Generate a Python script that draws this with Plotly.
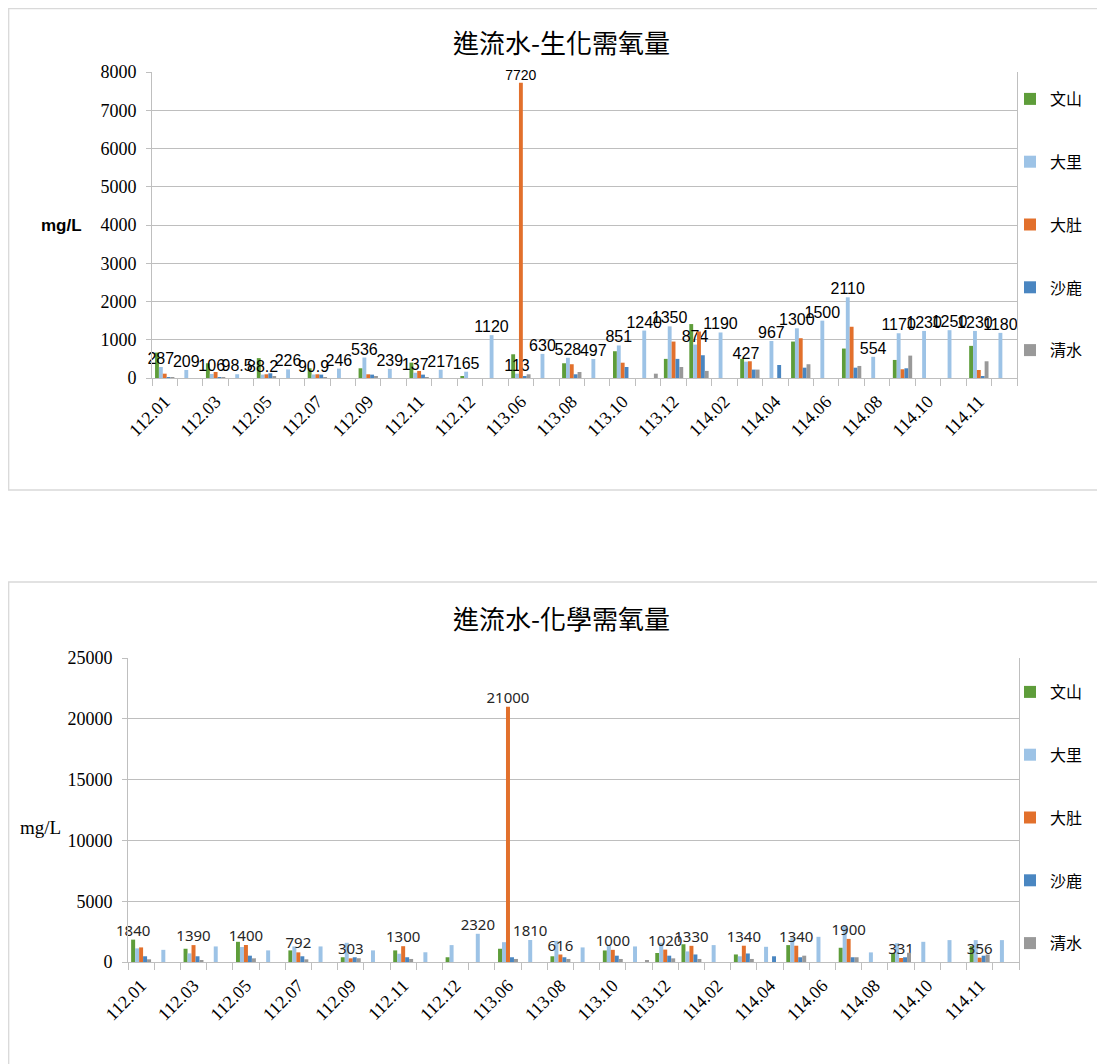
import plotly.graph_objects as go

W, H = 1105, 1064
OFF = 8  # page body margin in the browser

categories = ["112.01", "112.02", "112.03", "112.04", "112.05", "112.06", "112.07", "112.08",
              "112.09", "112.10", "112.11", "112.11-2", "112.12", "113.05", "113.06", "113.07",
              "113.08", "113.09", "113.10", "113.11", "113.12", "114.01", "114.02", "114.03",
              "114.04", "114.05", "114.06", "114.07", "114.08", "114.09", "114.10", "114.10-2",
              "114.11", "114.12"]
shown_tick_every = 2

series_names = ["文山", "大里", "大肚", "沙鹿", "清水"]
series_colors = ["#5E9D3A", "#9DC3E6", "#E2702C", "#4A86C1", "#999999"]

# 生化需氧量 (BOD) mg/L
bod_wenshan = [664, None, 385, None, 520, None, 254, None, 254, None, 402, None, 52, None, 620, None, 385,
               None, 700, None, 500, 1410, None, 500, None, 953, None, 770, None, 472, None, None, 840, None]
bod_dali = [287, 209, 106, 98.5, 88.2, 226, 90.9, 246, 536, 239, 137, 217, 165, 1120, 113, 630, 528,
            497, 851, 1240, 1350, 874, 1190, 427, 967, 1300, 1500, 2110, 554, 1170, 1230, 1250, 1230, 1180]
bod_dadu = [113, None, 157, None, 97, None, 97, None, 97, None, 184, None, None, None, 7720, None, 360,
            None, 400, None, 953, 1215, None, 437, None, 1040, None, 1340, None, 228, None, None, 210, None]
bod_shalu = [26, None, 26, None, 123, None, 88, None, 88, None, 88, None, None, None, 50, None, 97,
             None, 288, None, 500, 595, None, 220, 340, 270, None, 270, None, 254, None, None, 52, None]
bod_qingshui = [15, None, 26, None, 45, None, 26, None, 35, None, 26, None, None, None, 97, None, 157,
                None, None, 113, 288, 185, None, 220, None, 360, None, 315, None, 585, None, None, 437, None]

# 化學需氧量 (COD) mg/L
cod_wenshan = [1840, None, 1090, None, 1660, None, 955, None, 390, None, 955, None, 390, None, 1090, None, 470,
               None, 950, None, 740, 1460, None, 620, None, 1390, None, 1170, None, 760, None, None, 1300, None]
cod_dali = [1120, 1000, 710, 1280, 1230, 955, 1280, 1280, 1580, 955, 680, 800, 1390, 2320, 1630, 1810, 1740,
            1200, 1390, 1280, 1580, 870, 1390, 470, 1250, 1960, 2070, 2970, 790, 1550, 1660, 1800, 1800, 1800]
cod_dadu = [1200, None, 1390, None, 1400, None, 792, None, 303, None, 1300, None, None, None, 21000, None, 616,
            None, 1000, None, 1020, 1330, None, 1340, None, 1340, None, 1900, None, 331, None, None, 356, None]
cod_shalu = [470, None, 470, None, 520, None, 470, None, 390, None, 390, None, None, None, 390, None, 390,
             None, 520, None, 520, 620, None, 700, 470, 390, None, 390, None, 390, None, None, 520, None]
cod_qingshui = [220, None, 140, None, 300, None, 220, None, 310, None, 250, None, None, None, 250, None, 250,
                None, 250, 150, 300, 250, None, 250, None, 520, None, 390, None, 760, None, None, 620, None]

# which points carry a data label
bod_label_idx = {"大里": list(range(len(categories))), "大肚": [14]}
cod_label_idx = {"文山": [0], "大里": [13, 15],
                 "大肚": [2, 4, 6, 8, 10, 14, 16, 18, 20, 21, 23, 25, 27, 29, 32]}

bod_title = "進流水-生化需氧量"
cod_title = "進流水-化學需氧量"
y_unit = "mg/L"
bod_range, bod_dtick = [0, 8000], 1000
cod_range, cod_dtick = [0, 25000], 5000

bod_series = [bod_wenshan, bod_dali, bod_dadu, bod_shalu, bod_qingshui]
cod_series = [cod_wenshan, cod_dali, cod_dadu, cod_shalu, cod_qingshui]

ticktext = [c if i % shown_tick_every == 0 else "" for i, c in enumerate(categories)]


def px(x):
    return (x - OFF) / W


def py(y):
    return 1 - (y - OFF) / H


def fmt(v):
    return f"{v:g}"


def texts(name, vals, idx_map):
    idx = set(idx_map.get(name, []))
    return [fmt(v) if (i in idx and v is not None) else "" for i, v in enumerate(vals)]


fig = go.Figure()
for name, color, vals in zip(series_names, series_colors, bod_series):
    fig.add_trace(go.Bar(
        x=categories, y=vals, name=name, marker=dict(color=color, line=dict(width=0)),
        text=texts(name, vals, bod_label_idx), textposition="outside", constraintext="none",
        cliponaxis=False, textangle=0,
        textfont=dict(family="Liberation Sans", size=16 if name == "大里" else 14, color="#000000"),
        xaxis="x", yaxis="y", legend="legend", legendgroup="b" + name, hoverinfo="x+y+name"))
for name, color, vals in zip(series_names, series_colors, cod_series):
    fig.add_trace(go.Bar(
        x=categories, y=vals, name=name, marker=dict(color=color, line=dict(width=0)),
        text=texts(name, vals, cod_label_idx), textposition="outside", constraintext="none",
        cliponaxis=False, textangle=0,
        textfont=dict(family="Noto Sans", size=15, color="#262626"),
        xaxis="x2", yaxis="y2", legend="legend2", legendgroup="c" + name, hoverinfo="x+y+name"))

axis_line = "#BFBFBF"
grid = "#BEBEBE"


def xaxis_cfg(domain, anchor):
    return dict(domain=domain, anchor=anchor, type="category", categoryorder="array",
                categoryarray=categories, tickmode="array", tickvals=categories, ticktext=ticktext,
                tickson="boundaries", ticks="outside", ticklen=7, tickcolor=axis_line,
                showline=True, linecolor=axis_line, linewidth=1, tickangle=-45, showgrid=False,
                automargin=False, ticklabelstandoff=5,
                tickfont=dict(family="Liberation Serif", size=18, color="#000000"),
                range=[-0.5, len(categories) - 0.5])


def yaxis_cfg(domain, anchor, rng, dt):
    return dict(domain=domain, anchor=anchor, range=rng, dtick=dt, tick0=0, tickformat="d",
                showgrid=True, gridcolor=grid, gridwidth=1, zeroline=False,
                showline=True, mirror=True, linecolor=axis_line, linewidth=1, automargin=False,
                ticks="outside", ticklen=5, tickcolor=axis_line, ticklabelstandoff=6,
                tickfont=dict(family="Liberation Serif", size=18, color="#000000"))


legend_font = dict(family="Noto Sans CJK TC", size=16, color="#000000")
box_line = dict(color="#D9D9D9", width=1.3)

fig.update_layout(
    width=W, height=H, margin=dict(l=0, r=0, t=0, b=0, pad=0, autoexpand=False),
    paper_bgcolor="white", plot_bgcolor="white",
    barmode="group", bargap=0.24, bargroupgap=0,
    xaxis=xaxis_cfg([px(152), px(1017)], "y"),
    yaxis=yaxis_cfg([py(378), py(72)], "x", bod_range, bod_dtick),
    xaxis2=xaxis_cfg([px(128), px(1019)], "y2"),
    yaxis2=yaxis_cfg([py(962), py(658)], "x2", cod_range, cod_dtick),
    legend=dict(x=px(1010), y=py(82), xanchor="left", yanchor="top", font=legend_font,
                tracegroupgap=39, itemwidth=30, bgcolor="rgba(0,0,0,0)"),
    legend2=dict(x=px(1010), y=py(675), xanchor="left", yanchor="top", font=legend_font,
                 tracegroupgap=39, itemwidth=30, bgcolor="rgba(0,0,0,0)"),
    shapes=[
        dict(type="rect", xref="paper", yref="paper", x0=px(8.7), x1=1.02, y0=py(490), y1=py(8.7),
             line=box_line),
        dict(type="rect", xref="paper", yref="paper", x0=px(8.7), x1=1.02, y0=-0.05, y1=py(582),
             line=box_line),
    ],
    annotations=[
        dict(text=bod_title, x=px(561), y=py(42), xref="paper", yref="paper", showarrow=False,
             xanchor="center", yanchor="middle",
             font=dict(family="Noto Sans CJK TC", size=26, color="#000000")),
        dict(text=cod_title, x=px(561), y=py(617), xref="paper", yref="paper", showarrow=False,
             xanchor="center", yanchor="middle",
             font=dict(family="Noto Sans CJK TC", size=26, color="#000000")),
        dict(text="<b>" + y_unit + "</b>", x=px(61), y=py(225), xref="paper", yref="paper",
             showarrow=False, xanchor="center", yanchor="middle",
             font=dict(family="Liberation Sans", size=17, color="#000000")),
        dict(text=y_unit, x=px(40), y=py(827), xref="paper", yref="paper",
             showarrow=False, xanchor="center", yanchor="middle",
             font=dict(family="Liberation Serif", size=19, color="#000000")),
    ],
)

fig.write_html("out.html")
